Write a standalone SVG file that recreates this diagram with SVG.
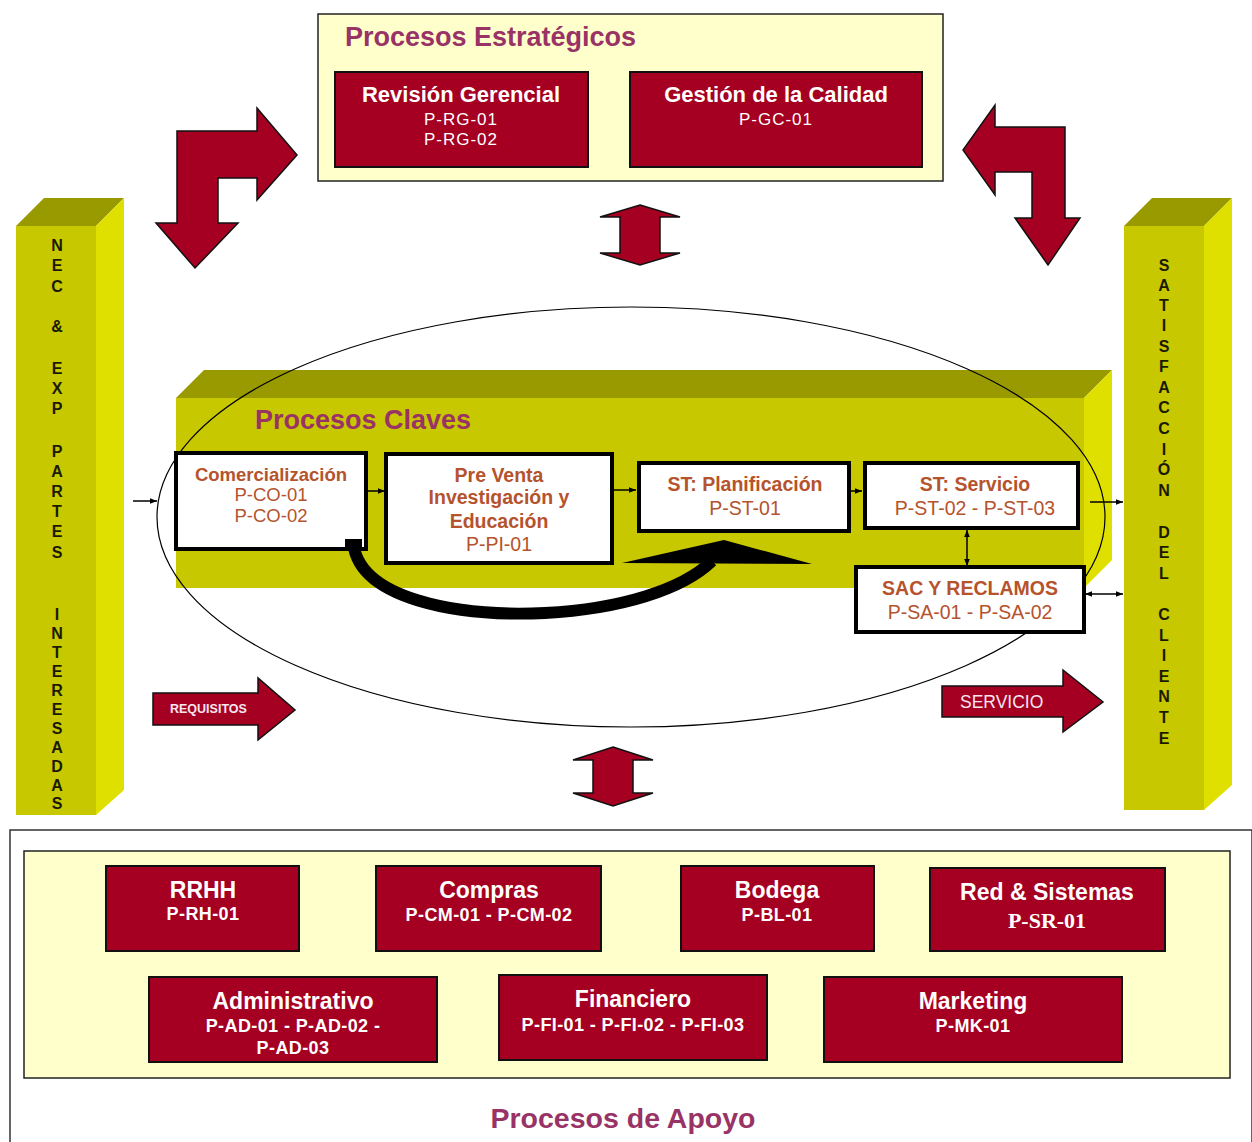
<svg xmlns="http://www.w3.org/2000/svg" width="1252" height="1142" viewBox="0 0 1252 1142">
<defs>
<style>
.red{fill:#A50021;stroke:#111;stroke-width:2}
.pale{fill:#FFFFCC;stroke:#222;stroke-width:1.5}
.front{fill:#C8C800}
.side{fill:#E0E000}
.top{fill:#999900}
.wbox{fill:#fff;stroke:#000;stroke-width:4}
.title{font-family:"Liberation Sans",Arial,sans-serif;font-weight:bold;fill:#993366}
.wt{font-family:"Liberation Sans",Arial,sans-serif;fill:#fff;text-anchor:middle}
.st{font-size:23px;font-weight:bold}
.sc{font-size:18px;font-weight:bold;letter-spacing:0.4px}
.kt{font-family:"Liberation Sans",Arial,sans-serif;fill:#B5532D;text-anchor:middle;font-size:19.5px}
.kts{font-size:18.5px}
.serif{font-family:"Liberation Serif","Times New Roman",serif}
.col{font-family:"Liberation Sans",Arial,sans-serif;font-weight:bold;font-size:16px;fill:#1a1a00;text-anchor:middle}
.ln{stroke:#000;stroke-width:1.5;fill:none}
.bigarrow{fill:#A50021;stroke:#111;stroke-width:1.5}
</style>
<marker id="ah" viewBox="0 0 10 10" refX="10" refY="5" markerWidth="7" markerHeight="7" orient="auto-start-reverse" markerUnits="userSpaceOnUse">
<path d="M0,1 L10,5 L0,9 z" fill="#000"/>
</marker>
</defs>
<rect width="1252" height="1142" fill="#fff"/>

<!-- Strategic -->
<g id="estrategicos">
<rect class="pale" x="318" y="14" width="625" height="167"/>
<text class="title" x="345" y="46" font-size="27">Procesos Estratégicos</text>
</g>
<g id="revision-gerencial">
<rect class="red" x="335" y="72" width="253" height="95"/>
<text class="wt" x="461" y="102" font-size="22" font-weight="bold">Revisión Gerencial</text>
<text class="wt" x="461" y="125" font-size="17" letter-spacing="1">P-RG-01</text>
<text class="wt" x="461" y="145" font-size="17" letter-spacing="1">P-RG-02</text>
</g>
<g id="gestion-calidad">
<rect class="red" x="630" y="72" width="292" height="95"/>
<text class="wt" x="776" y="102" font-size="22" font-weight="bold">Gestión de la Calidad</text>
<text class="wt" x="776" y="125" font-size="17" letter-spacing="1">P-GC-01</text>
</g>

<!-- Left column -->
<g id="nec-exp">
<polygon class="front" points="16,226 96,226 96,815 16,815"/>
<polygon class="top" points="16,226 44,198 124,198 96,226"/>
<polygon class="side" points="96,226 124,198 124,790 96,815"/>
<text class="col" x="57" y="251">N</text>
<text class="col" x="57" y="271">E</text>
<text class="col" x="57" y="292">C</text>
<text class="col" x="57" y="332">&amp;</text>
<text class="col" x="57" y="374">E</text>
<text class="col" x="57" y="394">X</text>
<text class="col" x="57" y="414">P</text>
<text class="col" x="57" y="457">P</text>
<text class="col" x="57" y="477">A</text>
<text class="col" x="57" y="497">R</text>
<text class="col" x="57" y="517">T</text>
<text class="col" x="57" y="537">E</text>
<text class="col" x="57" y="558">S</text>
<text class="col" x="57" y="620">I</text>
<text class="col" x="57" y="639">N</text>
<text class="col" x="57" y="658">T</text>
<text class="col" x="57" y="677">E</text>
<text class="col" x="57" y="696">R</text>
<text class="col" x="57" y="715">E</text>
<text class="col" x="57" y="734">S</text>
<text class="col" x="57" y="753">A</text>
<text class="col" x="57" y="772">D</text>
<text class="col" x="57" y="791">A</text>
<text class="col" x="57" y="809">S</text>
</g>

<!-- Right column -->
<g id="satisfaccion">
<polygon class="front" points="1124,226 1204,226 1204,810 1124,810"/>
<polygon class="top" points="1124,226 1152,198 1232,198 1204,226"/>
<polygon class="side" points="1204,226 1232,198 1232,785 1204,810"/>
<text class="col" x="1164" y="271">S</text>
<text class="col" x="1164" y="291">A</text>
<text class="col" x="1164" y="311">T</text>
<text class="col" x="1164" y="331">I</text>
<text class="col" x="1164" y="352">S</text>
<text class="col" x="1164" y="372">F</text>
<text class="col" x="1164" y="393">A</text>
<text class="col" x="1164" y="413">C</text>
<text class="col" x="1164" y="434">C</text>
<text class="col" x="1164" y="455">I</text>
<text class="col" x="1164" y="475">Ó</text>
<text class="col" x="1164" y="496">N</text>
<text class="col" x="1164" y="538">D</text>
<text class="col" x="1164" y="558">E</text>
<text class="col" x="1164" y="579">L</text>
<text class="col" x="1164" y="620">C</text>
<text class="col" x="1164" y="641">L</text>
<text class="col" x="1164" y="661">I</text>
<text class="col" x="1164" y="682">E</text>
<text class="col" x="1164" y="702">N</text>
<text class="col" x="1164" y="723">T</text>
<text class="col" x="1164" y="744">E</text>
</g>

<!-- Key processes block -->
<g id="claves">
<polygon class="front" points="176,398 1084,398 1084,588 176,588"/>
<polygon class="top" points="176,398 204,370 1112,370 1084,398"/>
<polygon class="side" points="1084,398 1112,370 1112,560 1084,588"/>
<text class="title" x="255" y="429" font-size="27">Procesos Claves</text>
</g>

<ellipse cx="631" cy="517" rx="474" ry="210" fill="none" stroke="#000" stroke-width="1.2"/>

<!-- Big red arrows -->
<g id="flechas">
<polygon class="bigarrow" points="177,131 257,131 257,108 297,155 257,200 257,178 218,178 218,223 238,223 195,268 156,223 177,223"/>
<polygon class="bigarrow" points="1065,127 995,127 995,105 963,150 995,195 995,172 1032,172 1032,218 1015,218 1048,265 1080,218 1065,218"/>
<polygon class="bigarrow" points="640,205 680,217 660,217 660,253 680,253 640,265 600,253 620,253 620,217 600,217"/>
<polygon class="bigarrow" points="613,747 653,760 633,760 633,793 653,793 613,806 573,793 593,793 593,760 573,760"/>
<polygon class="bigarrow" points="153,693 258,693 258,678 295,710 258,740 258,725 153,725"/>
<text x="170" y="713" font-family="Liberation Sans,Arial,sans-serif" font-size="12.5" font-weight="bold" fill="#F5E6F0">REQUISITOS</text>
<polygon class="bigarrow" points="942,686 1063,686 1063,670 1103,702 1063,732 1063,717 942,717"/>
<text x="960" y="708" font-family="Liberation Sans,Arial,sans-serif" font-size="17.5" fill="#F5E6F0">SERVICIO</text>
</g>

<!-- Connectors -->
<g id="conectores">
<line class="ln" x1="133" y1="501" x2="157" y2="501" marker-end="url(#ah)"/>
<line class="ln" x1="367" y1="491" x2="385" y2="491" marker-end="url(#ah)"/>
<line class="ln" x1="613" y1="490" x2="636" y2="490" marker-end="url(#ah)"/>
<line class="ln" x1="848" y1="491" x2="862" y2="491" marker-end="url(#ah)"/>
<line class="ln" x1="1090" y1="502" x2="1123" y2="502" marker-end="url(#ah)"/>
<line class="ln" x1="967" y1="530" x2="967" y2="566" marker-start="url(#ah)" marker-end="url(#ah)"/>
<line class="ln" x1="1085" y1="594" x2="1123" y2="594" marker-start="url(#ah)" marker-end="url(#ah)"/>
<path d="M353,540 C356,600 460,617 545,613 C620,609 682,590 712,561" fill="none" stroke="#000" stroke-width="12"/>
<polygon points="622,563 724,540 812,564" fill="#000"/>
</g>

<!-- Key process nodes -->
<g id="comercializacion">
<rect class="wbox" x="176" y="453" width="190" height="96"/>
<text class="kt kts" x="271" y="481" font-weight="bold">Comercialización</text>
<text class="kt kts" x="271" y="501">P-CO-01</text>
<text class="kt kts" x="271" y="522">P-CO-02</text>
</g>
<rect x="345" y="539" width="17" height="12" fill="#000"/>
<g id="preventa">
<rect class="wbox" x="386" y="454" width="226" height="109"/>
<text class="kt" x="499" y="482" font-weight="bold">Pre Venta</text>
<text class="kt" x="499" y="504" font-weight="bold">Investigación y</text>
<text class="kt" x="499" y="528" font-weight="bold">Educación</text>
<text class="kt" x="499" y="551">P-PI-01</text>
</g>
<g id="planificacion">
<rect class="wbox" x="639" y="463" width="210" height="68"/>
<text class="kt" x="745" y="491" font-weight="bold">ST: Planificación</text>
<text class="kt" x="745" y="515">P-ST-01</text>
</g>
<g id="servicio">
<rect class="wbox" x="865" y="463" width="213" height="65"/>
<text class="kt" x="975" y="491" font-weight="bold">ST: Servicio</text>
<text class="kt" x="975" y="515">P-ST-02 - P-ST-03</text>
</g>
<g id="sac">
<rect class="wbox" x="856" y="567" width="228" height="65"/>
<text class="kt" x="970" y="595" font-weight="bold">SAC Y RECLAMOS</text>
<text class="kt" x="970" y="619">P-SA-01 - P-SA-02</text>
</g>

<!-- Support processes -->
<g id="apoyo">
<rect x="10" y="830" width="1242" height="320" fill="#fff" stroke="#333" stroke-width="1.5"/>
<rect class="pale" x="24" y="851" width="1206" height="227"/>
<text class="title" x="623" y="1128" font-size="28.5" text-anchor="middle">Procesos de Apoyo</text>
</g>
<g id="rrhh">
<rect class="red" x="106" y="866" width="193" height="85"/>
<text class="wt st" x="203" y="898">RRHH</text>
<text class="wt sc" x="203" y="920">P-RH-01</text>
</g>
<g id="compras">
<rect class="red" x="376" y="866" width="225" height="85"/>
<text class="wt st" x="489" y="898">Compras</text>
<text class="wt sc" x="489" y="921">P-CM-01 - P-CM-02</text>
</g>
<g id="bodega">
<rect class="red" x="681" y="866" width="193" height="85"/>
<text class="wt st" x="777" y="898">Bodega</text>
<text class="wt sc" x="777" y="921">P-BL-01</text>
</g>
<g id="red-sistemas">
<rect class="red" x="930" y="868" width="235" height="83"/>
<text class="wt st" x="1047" y="900">Red &amp; Sistemas</text>
<text class="wt serif" x="1047" y="928" font-size="22" font-weight="bold">P-SR-01</text>
</g>
<g id="administrativo">
<rect class="red" x="149" y="977" width="288" height="85"/>
<text class="wt st" x="293" y="1009">Administrativo</text>
<text class="wt sc" x="293" y="1032">P-AD-01 - P-AD-02 -</text>
<text class="wt sc" x="293" y="1054">P-AD-03</text>
</g>
<g id="financiero">
<rect class="red" x="499" y="975" width="268" height="85"/>
<text class="wt st" x="633" y="1007">Financiero</text>
<text class="wt sc" x="633" y="1031">P-FI-01 - P-FI-02 - P-FI-03</text>
</g>
<g id="marketing">
<rect class="red" x="824" y="977" width="298" height="85"/>
<text class="wt st" x="973" y="1009">Marketing</text>
<text class="wt sc" x="973" y="1032">P-MK-01</text>
</g>
</svg>
